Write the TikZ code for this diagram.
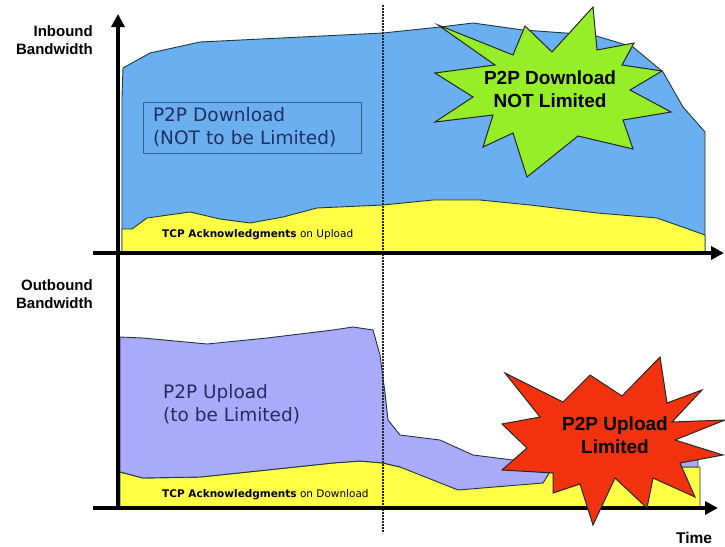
\documentclass[tikz,border=0pt]{standalone}
\usepackage{fontspec}
\setmainfont{Liberation Sans}
\newfontfamily\tahoma{DejaVu Sans}
\usetikzlibrary{arrows.meta}
\definecolor{bwblue}{RGB}{106,176,240}
\definecolor{ackyellow}{RGB}{255,255,70}
\definecolor{uplilac}{RGB}{170,170,250}
\definecolor{burstgreen}{RGB}{150,238,40}
\definecolor{burstred}{RGB}{242,50,14}
\definecolor{labelnavy}{RGB}{35,45,95}
\definecolor{edgegray}{RGB}{30,55,60}

\begin{document}
\begin{tikzpicture}[x=1pt,y=-1pt,
  area/.style={draw=edgegray,line width=0.9pt,line join=round},
  axisline/.style={line width=4pt,-{Triangle[length=13pt,width=13pt]}},
  axislabel/.style={font=\fontsize{15}{18}\selectfont\bfseries,align=right,inner sep=0pt},
  ack/.style={font=\fontsize{10.5}{12}\selectfont\tahoma,inner sep=0pt},
  flowtext/.style={font=\fontsize{18.5}{23}\selectfont\tahoma,text=labelnavy,align=left},
  burst/.style={draw=black!85,line width=1pt,line join=miter},
  bursttext/.style={font=\fontsize{19}{23.5}\selectfont\bfseries,align=center,inner sep=0pt}]
\useasboundingbox (0,0) rectangle (725,546);

% Inbound: P2P download
\draw[area,fill=bwblue] (122,253) -- (122,97) -- (123,68) -- (150,53) -- (200,42)
  -- (383,33) -- (440,27) -- (473,23) -- (523,30) -- (593,35) -- (633,47)
  -- (663,72) -- (683,107) -- (705,132) -- (705,253) -- cycle;
% Inbound: TCP acks
\draw[area,fill=ackyellow] (122,253) -- (122,229) -- (132,229) -- (147,218) -- (190,212)
  -- (220,219) -- (250,223) -- (283,217) -- (317,208) -- (383,205) -- (433,200)
  -- (480,200) -- (530,205) -- (597,213) -- (657,218) -- (705,235) -- (705,253) -- cycle;

% Outbound: TCP acks
\draw[area,fill=ackyellow] (120,508) -- (120,472) -- (143,478) -- (200,477) -- (267,470)
  -- (333,463) -- (360,461) -- (383,463) -- (400,467) -- (700,467) -- (700,508) -- cycle;
% Outbound: P2P upload
\draw[area,fill=uplilac] (120,337) -- (143,338) -- (207,344) -- (267,338) -- (333,330)
  -- (353,327) -- (373,330) -- (380,355) -- (385,393) -- (388,420) -- (400,435)
  -- (440,440) -- (473,455) -- (513,460) -- (698,460) -- (698,467) -- (553,467)
  -- (543,483) -- (458,490) -- (400,467) -- (383,463) -- (360,461) -- (333,463)
  -- (267,470) -- (200,477) -- (143,478) -- (120,472) -- cycle;

% Divider
\coordinate (divtop) at (383,5);
\coordinate (divbot) at (383,533);
\draw[black!85,line width=2pt,dash pattern=on 1.6pt off 1.4pt] (divtop) -- (divbot);

% Axes
\coordinate (origin) at (118,508);
\coordinate (yend) at (118,14);
\coordinate (inleft) at (93,253);
\coordinate (inright) at (724,253);
\coordinate (outleft) at (93,508);
\coordinate (outright) at (718,508);
\draw[axisline] (origin) -- (yend);
\draw[axisline] (inleft) -- (inright);
\draw[axisline] (outleft) -- (outright);

% Green burst
\draw[burst,fill=burstgreen] (438,25) -- (513,55) -- (525,26) -- (552,52) -- (593,7)
  -- (597,50) -- (634,43) -- (622,65) -- (662,71) -- (630,90) -- (671,112)
  -- (623,120) -- (633,149) -- (578,136) -- (527,177) -- (513,133) -- (483,147)
  -- (493,115) -- (435,122) -- (473,97) -- (435,73) -- (495,65) -- cycle;
% Red burst
\draw[burst,fill=burstred] (505,373) -- (563,402) -- (590,375) -- (622,396) -- (660,357)
  -- (667,403) -- (702,390) -- (672,422) -- (725,420) -- (675,440) -- (723,455)
  -- (680,463) -- (695,497) -- (653,478) -- (647,508) -- (615,478) -- (593,525)
  -- (580,484) -- (553,493) -- (553,473) -- (502,470) -- (527,448) -- (502,424)
  -- (540,417) -- cycle;

% Labels
\node[axislabel,anchor=east] (inlabel) at (93,40.5) {Inbound\\Bandwidth};
\node[axislabel,anchor=east] (outlabel) at (93,294.5) {Outbound\\Bandwidth};
\node[font=\fontsize{15.5}{18}\selectfont\bfseries,inner sep=0pt] (timelabel) at (694,537.5) {Time};

\node[flowtext,draw=black!45!bwblue,line width=0.6pt,inner xsep=10pt,text width=198pt,
  minimum height=51pt] (downtext) at (252,127.5) {P2P Download\\(NOT to be Limited)};
\node[flowtext,anchor=west,inner sep=0pt] (uptext) at (163,404) {P2P Upload\\(to be Limited)};

\node[ack,anchor=west] (ackup) at (162,235) {\textbf{TCP Acknowledgments} on Upload};
\node[ack,anchor=west] (ackdown) at (162,495) {\textbf{TCP Acknowledgments} on Download};

\node[bursttext] (greenmsg) at (550,89) {P2P Download\\NOT Limited};
\node[bursttext] (redmsg) at (615,435) {P2P Upload\\Limited};
\end{tikzpicture}
\end{document}
